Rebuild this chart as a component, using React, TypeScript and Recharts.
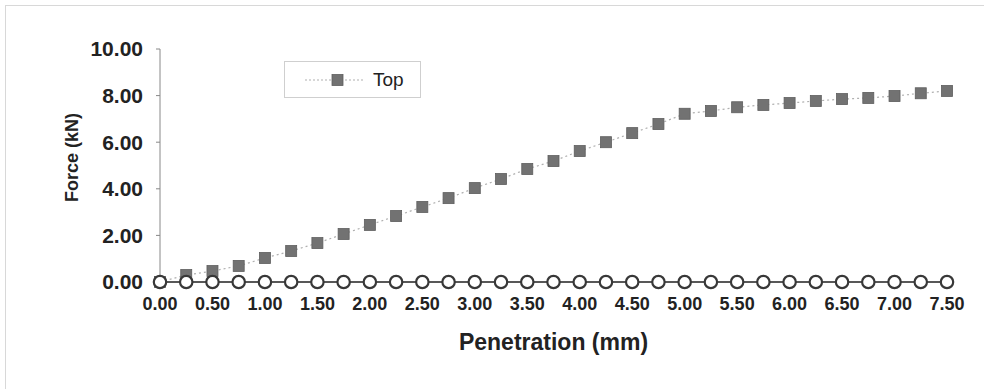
import React from 'react';
import { LineChart, Line, XAxis, YAxis, Label } from 'recharts';

const penetration = [0, 0.25, 0.5, 0.75, 1, 1.25, 1.5, 1.75, 2, 2.25, 2.5, 2.75, 3, 3.25, 3.5, 3.75, 4, 4.25, 4.5, 4.75, 5, 5.25, 5.5, 5.75, 6, 6.25, 6.5, 6.75, 7, 7.25, 7.5];
const topForce = [0, 0.3, 0.47, 0.69, 1.03, 1.33, 1.67, 2.06, 2.45, 2.83, 3.22, 3.6, 4.03, 4.42, 4.85, 5.19, 5.62, 6.0, 6.39, 6.78, 7.22, 7.34, 7.5, 7.6, 7.68, 7.77, 7.85, 7.9, 7.98, 8.1, 8.2];
const baseForce = [0, 0, 0, 0, 0, 0, 0, 0, 0, 0, 0, 0, 0, 0, 0, 0, 0, 0, 0, 0, 0, 0, 0, 0, 0, 0, 0, 0, 0, 0, 0];
const xTicks = [0, 0.5, 1, 1.5, 2, 2.5, 3, 3.5, 4, 4.5, 5, 5.5, 6, 6.5, 7, 7.5];
const yTicks = [0, 2, 4, 6, 8, 10];
const legendLabel = 'Top';

const data = penetration.map((p, i) => ({ p, top: topForce[i], base: baseForce[i] }));

const FONT = '"Liberation Sans", Arial, sans-serif';

const SquareDot = (props: any) => {
  const { cx, cy, index } = props;
  if (cx == null || cy == null) return <g key={index} />;
  return <rect key={index} x={cx - 5.5} y={cy - 5.5} width={11} height={11} fill="#727272" stroke="#5e5e5e" strokeWidth={0.8} />;
};

const CircleDot = (props: any) => {
  const { cx, cy, index } = props;
  if (cx == null || cy == null) return <g key={index} />;
  return <circle key={index} cx={cx} cy={cy} r={6.2} fill="#ffffff" stroke="#383838" strokeWidth={2.2} />;
};

const LegendBox = () => (
  <div
    style={{
      position: 'absolute',
      left: 284,
      top: 61,
      width: 137,
      height: 37,
      border: '1px solid #cfcfcf',
      boxSizing: 'border-box',
      display: 'flex',
      alignItems: 'center',
      fontFamily: FONT,
      fontSize: 19,
      color: '#222',
      background: '#fff',
    }}
  >
    <svg width={80} height={20} style={{ marginLeft: 8 }}>
      <line x1={12} y1={10} x2={72} y2={10} stroke="#b0b0b0" strokeWidth={1.2} strokeDasharray="2 2" />
      <rect x={39} y={4.5} width={11} height={11} fill="#727272" stroke="#5e5e5e" strokeWidth={0.8} />
    </svg>
    <span>{legendLabel}</span>
  </div>
);

const YTitle = (props: any) => {
  const { viewBox } = props;
  const x = viewBox.x - 18;
  const y = viewBox.y + viewBox.height / 2 - 8;
  return (
    <text
      x={x}
      y={y}
      transform={`rotate(-90, ${x}, ${y})`}
      textAnchor="middle"
      dominantBaseline="central"
      fontFamily={FONT}
      fontWeight="bold"
      fontSize={18}
      fill="#222"
    >
      Force (kN)
    </text>
  );
};

export default function App() {
  return (
    <div style={{ position: 'absolute', left: 0, top: 0, width: 984, height: 389, background: '#fff' }}>
      <div
        style={{
          position: 'absolute',
          left: 5,
          top: 5,
          width: 979,
          height: 384,
          borderLeft: '1px solid #d8d8d8',
          borderTop: '1px solid #d8d8d8',
        }}
      />
      <div style={{ position: 'absolute', left: 0, top: 0 }}>
        <LineChart width={984} height={389} data={data} margin={{ top: 49, right: 37, bottom: 55, left: 90 }}>
          <XAxis
            dataKey="p"
            type="number"
            domain={[0, 7.5]}
            ticks={xTicks}
            tickFormatter={(v: number) => v.toFixed(2)}
            interval={0}
            height={52}
            axisLine={{ stroke: '#777' }}
            tickLine={false}
            tickSize={0}
            tickMargin={15}
            tick={{ fontFamily: FONT, fontSize: 18, fontWeight: 'bold', fill: '#222' }}
          >
            <Label
              value="Penetration (mm)"
              position="bottom"
              offset={0}
              style={{ fontFamily: FONT, fontSize: 23, fontWeight: 'bold', fill: '#222' }}
            />
          </XAxis>
          <YAxis
            type="number"
            domain={[0, 10]}
            ticks={yTicks}
            tickFormatter={(v: number) => v.toFixed(2)}
            width={70}
            axisLine={{ stroke: '#888' }}
            tickLine={{ stroke: '#888' }}
            tickSize={4}
            tickMargin={13}
            tick={{ fontFamily: FONT, fontSize: 21, fontWeight: 'bold', fill: '#222' }}
          >
            <Label content={<YTitle />} />
          </YAxis>
          <Line
            dataKey="top"
            name="Top"
            stroke="#b0b0b0"
            strokeWidth={1.2}
            strokeDasharray="2 3"
            dot={<SquareDot />}
            activeDot={false}
            isAnimationActive={false}
          />
          <Line
            dataKey="base"
            name="Base"
            stroke="#3a3a3a"
            strokeWidth={2.2}
            dot={<CircleDot />}
            activeDot={false}
            isAnimationActive={false}
          />
        </LineChart>
      </div>
      <LegendBox />
    </div>
  );
}
